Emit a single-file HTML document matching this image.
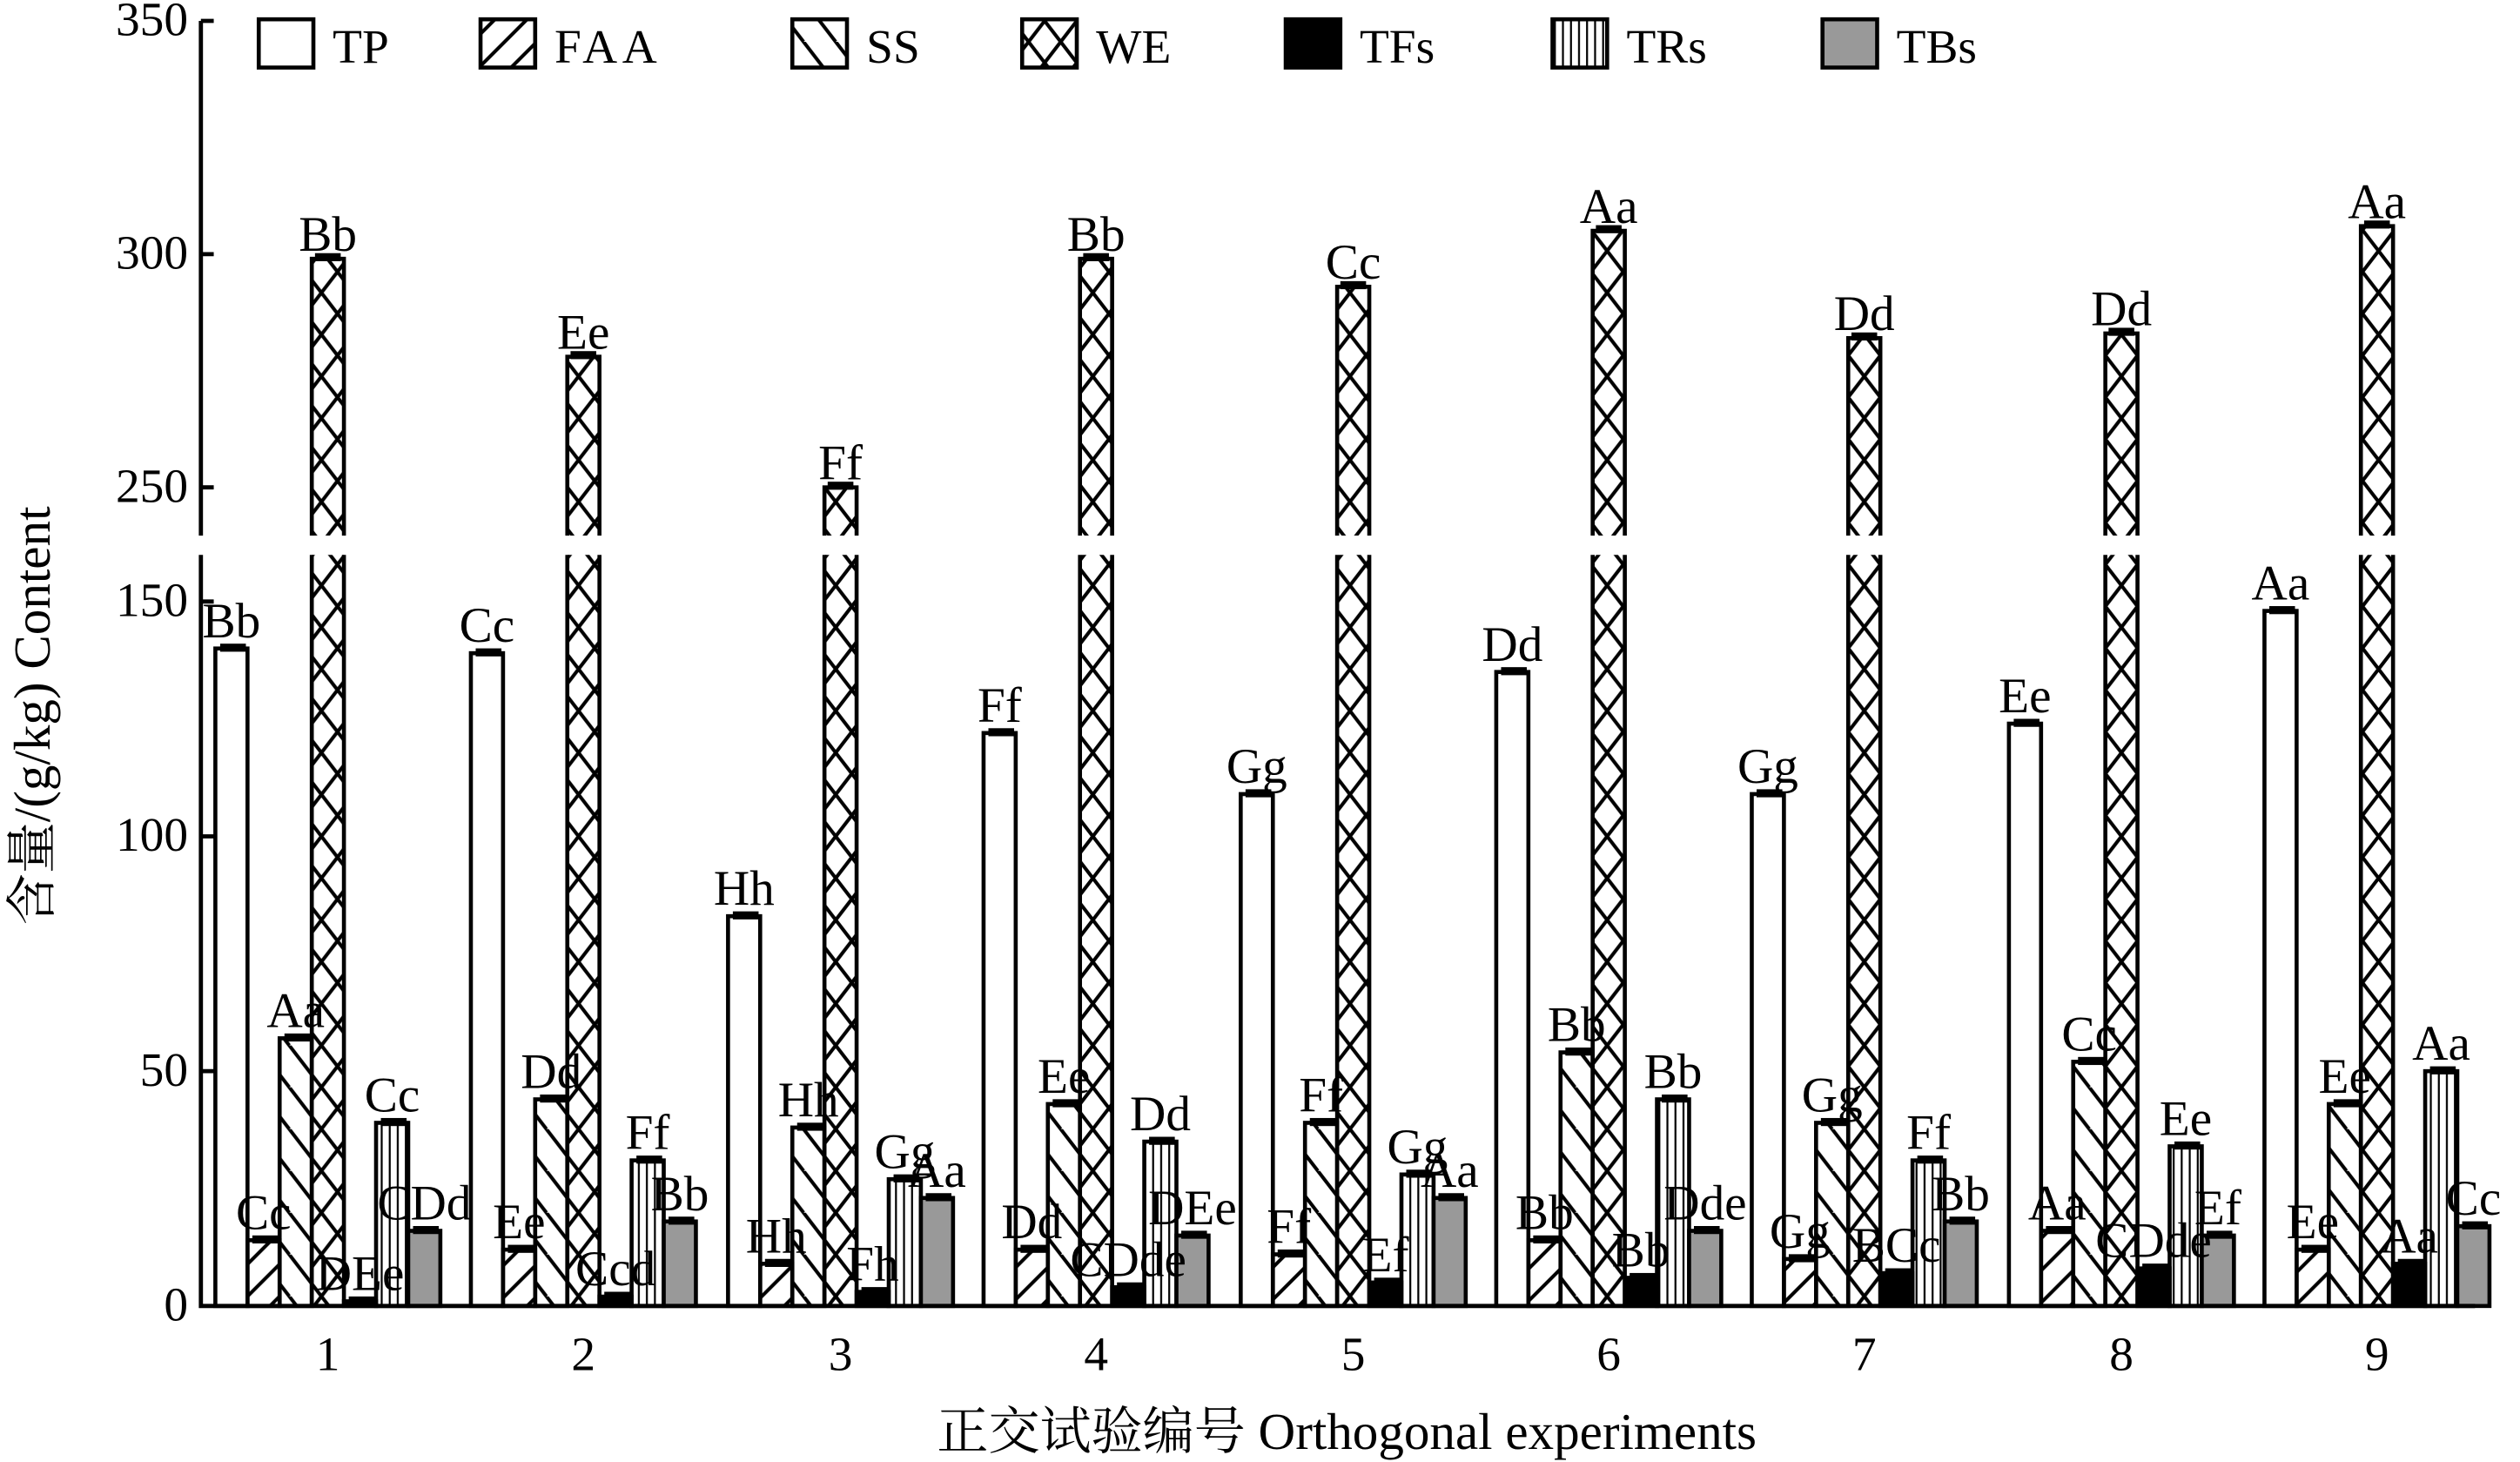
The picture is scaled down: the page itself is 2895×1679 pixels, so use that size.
<!DOCTYPE html>
<html><head><meta charset="utf-8"><style>
html,body{margin:0;padding:0;background:#fff}
svg{display:block}
text{font-family:"Liberation Serif","DejaVu Serif","Noto Serif CJK SC",serif;fill:#000}
</style></head><body>
<svg id="s" width="2895" height="1679" viewBox="0 0 1568 909" preserveAspectRatio="none" xmlns="http://www.w3.org/2000/svg" font-family="Liberation Serif, DejaVu Serif, Noto Serif CJK SC, serif">
<defs>
<pattern id="pf" patternUnits="userSpaceOnUse" width="20" height="20"><path d="M-5,25 L25,-5 M-5,5 L5,-5 M15,25 L25,15" stroke="#000" stroke-width="2.2"/></pattern>
<pattern id="ps" patternUnits="userSpaceOnUse" width="20" height="26"><path d="M0,0 L20,26 M-10,13 L0,26 M10,-13 L30,13" stroke="#000" stroke-width="2.2"/></pattern>
<pattern id="pw" patternUnits="userSpaceOnUse" width="20" height="26"><path d="M0,0 L20,26 M20,0 L0,26" stroke="#000" stroke-width="2.2"/></pattern>
<pattern id="pr" patternUnits="userSpaceOnUse" width="5" height="10"><path d="M2.5,0 L2.5,10" stroke="#000" stroke-width="1.2"/></pattern>
</defs>
<g id="bars"></g>
<g stroke="#000" stroke-width="2.6" fill="none">
<path d="M125,13 L125,333 M125,345 L125,812 L1540,812"/>
<path d="M125,13 L133,13 M125,158 L133,158 M125,303 L133,303 M125,374 L133,374 M125,520 L133,520 M125,666 L133,666"/>
</g>
<g font-size="30" text-anchor="end">
<text x="117" y="22">350</text><text x="117" y="167">300</text><text x="117" y="312">250</text>
<text x="117" y="383">150</text><text x="117" y="529">100</text><text x="117" y="675">50</text><text x="117" y="821">0</text>
</g>
<g font-size="30" text-anchor="middle">
<text x="204" y="852">1</text><text x="363" y="852">2</text><text x="523" y="852">3</text><text x="682" y="852">4</text><text x="842" y="852">5</text><text x="1001" y="852">6</text><text x="1160" y="852">7</text><text x="1320" y="852">8</text><text x="1479" y="852">9</text>
</g>
<text x="838" y="901" font-size="32" text-anchor="middle">正交试验编号 Orthogonal experiments</text>
<text font-size="32" text-anchor="middle" transform="translate(31,445) rotate(-90)">含量/(g/kg)  Content</text>
<g stroke="#000" stroke-width="2.5">
<rect x="161" y="12" width="34" height="30" fill="#fff"/>
<rect x="299" y="12" width="34" height="30" fill="url(#pf)"/>
<rect x="493" y="12" width="34" height="30" fill="url(#ps)"/>
<rect x="636" y="12" width="34" height="30" fill="url(#pw)"/>
<rect x="800" y="12" width="34" height="30" fill="#000"/>
<rect x="966" y="12" width="34" height="30" fill="url(#pr)"/>
<rect x="1134" y="12" width="34" height="30" fill="#999"/>
</g>
<g font-size="30">
<text x="207" y="39">TP</text><text x="345" y="39" letter-spacing="3">FAA</text><text x="539" y="39">SS</text><text x="682" y="39">WE</text><text x="846" y="39">TFs</text><text x="1012" y="39">TRs</text><text x="1180" y="39">TBs</text>
</g>
<g id="labs" font-size="31" text-anchor="middle" font-family="Liberation Serif, serif"></g>
</svg>
<script>
var C=[204,363,523,682,842,1001,1160,1320,1479];
var D=[[140,14,57,299,1,39,16],[139,12,44,278,2,31,18],[83,9,38,250,3,27,23],[122,12,43,299,4,35,15],[109,11,39,293,5,28,23],[135,14,54,305,6,44,16],[109,10,39,282,7,31,18],[124,16,52,283,8,34,15],[148,12,43,306,9,50,17]];
var L=[["Bb","Cc","Aa","Bb","DEe","Cc","CDd"],["Cc","Ee","Dd","Ee","Ccd","Ff","Bb"],["Hh","Hh","Hh","Ff","Fh","Gg","Aa"],["Ff","Dd","Ee","Bb","CDde","Dd","DEe"],["Gg","Ff","Ff","Cc","Ef","Gg","Aa"],["Dd","Bb","Bb","Aa","Bb","Bb","Dde"],["Gg","Gg","Gg","Dd","BCc","Ff","Bb"],["Ee","Aa","Cc","Dd","CDde","Ee","Ef"],["Aa","Ee","Ee","Aa","Aa","Aa","Cc"]];
var F=["#fff","url(#pf)","url(#ps)","url(#pw)","#000","url(#pr)","#999"];
var y=function(v){return 812-2.92*v}, Y=function(v){return 1028-2.9*v};
var h="",t="";
for(var g=0;g<9;g++){for(var i=0;i<7;i++){
 var x=C[g]-70+20*i,v=D[g][i],cx=x+10;
 if(i==3){
  h+='<rect x="'+x+'" y="345" width="20" height="467" fill="'+F[i]+'"/>';
  h+='<path d="M'+x+',345 L'+x+',812 M'+(x+20)+',345 L'+(x+20)+',812" stroke="#000" stroke-width="2.5"/>';
  var tp=Y(v);
  h+='<rect x="'+x+'" y="'+tp+'" width="20" height="'+(333-tp)+'" fill="'+F[i]+'"/>';
  h+='<path d="M'+x+',333 L'+x+','+tp+' L'+(x+20)+','+tp+' L'+(x+20)+',333" stroke="#000" stroke-width="2.5" fill="none"/>';
  h+='<rect x="'+(x+2)+'" y="'+(tp-3.5)+'" width="16" height="5"/>';
  t+='<text x="'+cx+'" y="'+(tp-5)+'">'+L[g][i]+'</text>';
 }else{
  var tp=y(v);
  h+='<rect x="'+x+'" y="'+tp+'" width="20" height="'+(812-tp)+'" fill="'+F[i]+'" stroke="#000" stroke-width="2.5"/>';
  h+='<rect x="'+(x+3)+'" y="'+(tp-3)+'" width="16" height="5"/>';
  t+='<text x="'+cx+'" y="'+(tp-7)+'">'+L[g][i]+'</text>';
 }
}}
document.getElementById("bars").innerHTML=h;
document.getElementById("labs").innerHTML=t;
</script>
</body></html>
